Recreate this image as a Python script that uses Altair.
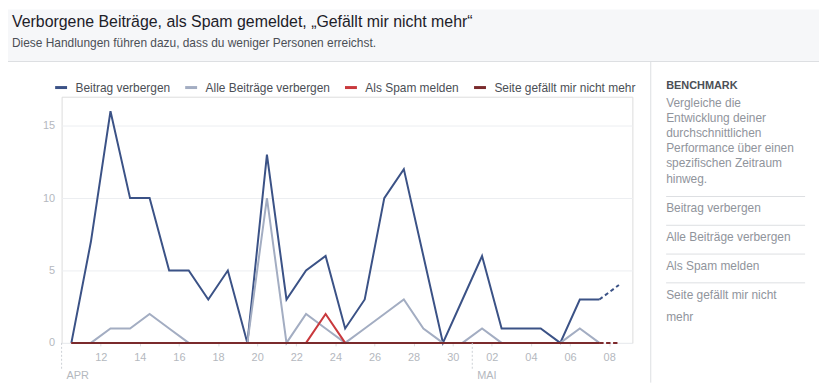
import altair as alt
import pandas as pd

# ---------------- data ----------------
title_text = "Verborgene Beiträge, als Spam gemeldet, „Gefällt mir nicht mehr“"
subtitle_text = "Diese Handlungen führen dazu, dass du weniger Personen erreichst."

series_names = ["Beitrag verbergen", "Alle Beiträge verbergen",
                "Als Spam melden", "Seite gefällt mir nicht mehr"]
series_colors = ["#3b5286", "#a3adc2", "#c9393d", "#7a2a2c"]

start_date = "2016-04-10"
n_days = 29

beitrag_verbergen = [0, 7, 16, 10, 10, 5, 5, 3, 5, 0, 13, 3, 5, 6, 1, 3, 10, 12, 6, 0, 3,
                     6, 1, 1, 1, 0, 3, 3, 4]
alle_beitraege_verbergen = [0, 0, 1, 1, 2, 1, 0, 0, 0, 0, 10, 0, 2, 1, 0, 1, 2, 3, 1, 0, 0,
                            1, 0, 0, 0, 0, 1, 0, 0]
als_spam_melden = [0, 0, 0, 0, 0, 0, 0, 0, 0, 0, 0, 0, 0, 2, 0, 0, 0, 0, 0, 0, 0,
                   0, 0, 0, 0, 0, 0, 0, 0]
seite_gefaellt_nicht = [0, 0, 0, 0, 0, 0, 0, 0, 0, 0, 0, 0, 0, 0, 0, 0, 0, 0, 0, 0, 0,
                        0, 0, 0, 0, 0, 0, 0, 0]

x_tick_days = [(4, 12), (4, 14), (4, 16), (4, 18), (4, 20), (4, 22), (4, 24), (4, 26),
               (4, 28), (4, 30), (5, 2), (5, 4), (5, 6), (5, 8)]
y_ticks = [0, 5, 10, 15]

month_starts = ["2016-04-10T00:00:00Z", "2016-05-01T00:00:00Z"]
month_labels = ["APR", "MAI"]

sidebar_heading = "BENCHMARK"
sidebar_desc = ["Vergleiche die", "Entwicklung deiner", "durchschnittlichen",
                "Performance über einen", "spezifischen Zeitraum", "hinweg."]
sidebar_items = ["Beitrag verbergen", "Alle Beiträge verbergen", "Als Spam melden",
                 "Seite gefällt mir nicht", "mehr"]

# ---------------- build table ----------------
dates = pd.date_range(start_date, periods=n_days, freq="D")
date_str = [d.strftime("%Y-%m-%dT12:00:00Z") for d in dates]
values = [beitrag_verbergen, alle_beitraege_verbergen, als_spam_melden, seite_gefaellt_nicht]
rows = []
for name, vals in zip(series_names, values):
    for i, (d, v) in enumerate(zip(date_str, vals)):
        rows.append({"date": d, "idx": i, "series": name, "value": v})
df = pd.DataFrame(rows)

W, H = 575, 248
PL, PT, PR, PB = 54, 88, 188, 40
TOTAL_W = PL + W + PR

LABEL_GRAY = "#b4b8be"
FONT = "Liberation Sans"

x_enc = alt.X("date:T",
              scale=alt.Scale(type="utc",
                              domain=[alt.DateTime(year=2016, month=4, date=10, utc=True),
                                      alt.DateTime(year=2016, month=5, date=9, hours=4,
                                                   minutes=30, utc=True)]),
              axis=alt.Axis(values=[alt.DateTime(year=2016, month=m, date=d, utc=True)
                                    for m, d in x_tick_days],
                            format="%d", grid=False, domain=False, tickSize=3,
                            tickColor="#dcdfe3", labelPadding=6, labelFontSize=11,
                            labelColor=LABEL_GRAY, title=None))
y_enc = alt.Y("value:Q", scale=alt.Scale(domain=[0, 17], nice=False),
              axis=alt.Axis(values=y_ticks, grid=True, gridColor="#eceef1",
                            domain=False, ticks=False, labelPadding=7,
                            labelFontSize=11, labelColor=LABEL_GRAY, title=None))
color_enc = alt.Color("series:N",
                      scale=alt.Scale(domain=series_names, range=series_colors),
                      legend=alt.Legend(title=None, orient="none", legendX=-8, legendY=-17,
                                        direction="horizontal"))


def one(text):
    return pd.DataFrame({"t": [text]})


def txt(text, x, y, size=12, color="#90949c", weight="normal", align="left"):
    return alt.Chart(one(text)).mark_text(
        align=align, baseline="middle", fontSize=size, color=color, fontWeight=weight,
        font=FONT).encode(text="t:N", x=alt.value(x), y=alt.value(y))


def hrule(x1, x2, y, color="#dddfe2"):
    return alt.Chart(one("")).mark_rule(color=color, strokeWidth=1).encode(
        x=alt.value(x1), x2=alt.value(x2), y=alt.value(y))


layers = []
# header band
layers.append(alt.Chart(one("")).mark_rect(color="#f6f7f9").encode(
    x=alt.value(-PL), x2=alt.value(TOTAL_W - PL), y=alt.value(-PT), y2=alt.value(-36)))
layers.append(hrule(-PL, TOTAL_W - PL, -35.5))
# sidebar border
layers.append(alt.Chart(one("")).mark_rule(color="#dddfe2").encode(
    x=alt.value(593.5), y=alt.value(-35), y2=alt.value(H + PB)))
# titles
layers.append(txt(title_text, -50, -75, size=16, color="#1d2129"))
layers.append(txt(subtitle_text, -50, -54, size=12, color="#4b4f56"))

# lines
last_solid = date_str[-2]
for name in series_names:
    sub = df[df["series"] == name]
    solid = sub[sub["date"] <= last_solid]
    dashed = sub[sub["date"] >= last_solid]
    layers.append(alt.Chart(solid).mark_line(strokeWidth=2).encode(
        x=x_enc, y=y_enc, color=color_enc, order="idx:Q"))
    layers.append(alt.Chart(dashed).mark_line(strokeWidth=2, strokeDash=[4, 3]).encode(
        x=x_enc, y=y_enc, color=color_enc, order="idx:Q"))

# month markers
mdf = pd.DataFrame({"date": month_starts, "label": month_labels})
layers.append(alt.Chart(mdf).mark_rule(color="#ccd0d5", strokeDash=[2, 2]).encode(
    x=alt.X("date:T"), y=alt.value(H), y2=alt.value(H + 27)))
layers.append(alt.Chart(mdf).mark_text(align="left", baseline="middle", dx=5, fontSize=11,
                                       color=LABEL_GRAY, font=FONT).encode(
    x=alt.X("date:T"), y=alt.value(H + 33), text="label:N"))

# sidebar
SX = 609
layers.append(txt(sidebar_heading, SX, -11, size=11, color="#4b4f56", weight="bold"))
for i, line in enumerate(sidebar_desc):
    layers.append(txt(line, SX, 6 + i * 15.3))
sep_y = [100, 129, 158, 187]
for y in sep_y:
    layers.append(hrule(SX, 749, y + 0.5))
item_y = [112, 141, 171, 200, 222]
for t, y in zip(sidebar_items, item_y):
    layers.append(txt(t, SX, y))

chart = alt.layer(*layers).properties(
    width=W, height=H,
    padding={"left": PL, "top": PT, "right": PR, "bottom": PB},
    autosize=alt.AutoSizeParams(type="none"),
).configure_view(stroke=None).configure(
    font=FONT, background="white"
).configure_legend(
    padding=0, symbolType="stroke", symbolSize=144, symbolStrokeWidth=3,
    labelFontSize=12, labelColor="#4b4f56", labelFont=FONT, labelOffset=7,
    columnPadding=8, labelLimit=400
)

chart.save("out.html", embed_options={"renderer": "svg", "actions": False})
